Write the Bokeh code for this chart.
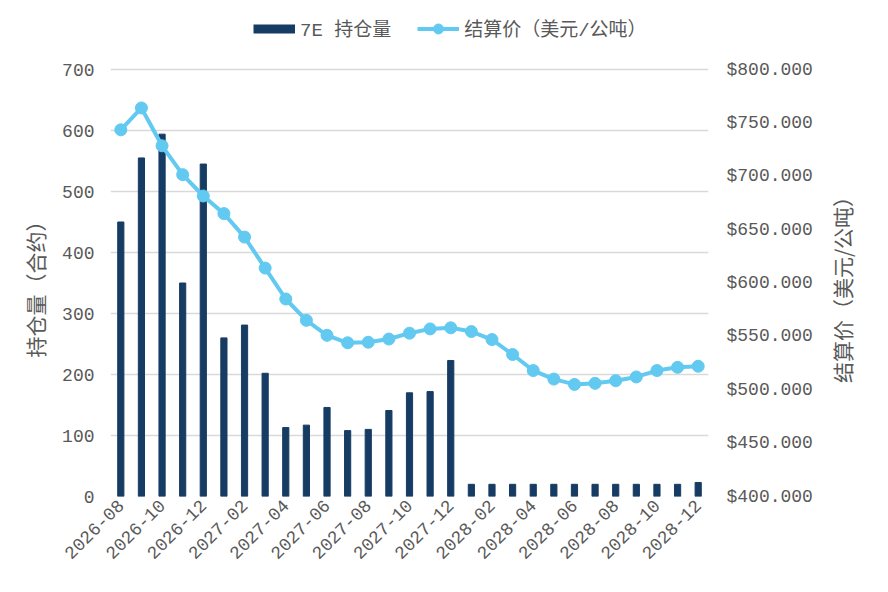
from math import pi

from bokeh.embed import file_html
from bokeh.models import (
    FixedTicker,
    Label,
    Legend,
    LegendItem,
    LinearAxis,
    NumeralTickFormatter,
    Range1d,
)
from bokeh.plotting import figure
from bokeh.resources import INLINE

MONTHS = [
    "2026-08", "2026-09", "2026-10", "2026-11", "2026-12",
    "2027-01", "2027-02", "2027-03", "2027-04", "2027-05", "2027-06",
    "2027-07", "2027-08", "2027-09", "2027-10", "2027-11", "2027-12",
    "2028-01", "2028-02", "2028-03", "2028-04", "2028-05", "2028-06",
    "2028-07", "2028-08", "2028-09", "2028-10", "2028-11", "2028-12",
]
OPEN_INTEREST = [
    450, 555, 594, 350, 545, 260, 281, 202, 113, 117, 146, 108, 110, 141,
    170, 172, 223, 20, 20, 20, 20, 20, 20, 20, 20, 20, 20, 20, 23,
]
SETTLE_PRICE = [
    743.5, 764.0, 728.5, 701.5, 681.5, 665.0, 643.0, 614.0, 585.0, 565.0,
    551.0, 544.0, 544.5, 547.5, 553.0, 557.0, 558.0, 554.5, 547.0, 533.0,
    518.0, 510.0, 505.0, 506.0, 508.5, 512.0, 518.0, 521.0, 522.0,
]
LEFT_TICKS = [0, 100, 200, 300, 400, 500, 600, 700]
RIGHT_TICKS = [400, 450, 500, 550, 600, 650, 700, 750, 800]
LEFT_TITLE = "持仓量（合约）"
RIGHT_TITLE = "结算价（美元/公吨）"

NAVY = "#173c63"
SKY = "#62c9f1"
GRID = "#d9d9d9"
TEXT = "#595959"
MONO = "Liberation Mono"
CJK = "'Noto Sans CJK SC'"
# trailing blanks push the rotated title down to the middle of the 0-700 part
PAD = "\u3000\u3000\u3000\u2002"

idx = list(range(len(MONTHS)))

# the frame runs up to the top so the legend can sit inside it
TOP = 800
p = figure(
    x_range=Range1d(-0.5, len(MONTHS) - 0.5),
    y_range=Range1d(0, TOP),
    width=880,
    height=584,
    output_backend="svg",
    toolbar_location=None,
    min_border_left=110,
    min_border_right=172,
    min_border_top=8,
    min_border_bottom=88,
    outline_line_color=None,
)
p.extra_y_ranges = {"price": Range1d(400, 400 + TOP * 400 / 700)}

bars = p.vbar(x=idx, top=OPEN_INTEREST, width=0.3, color=NAVY)
line = p.line(x=idx, y=SETTLE_PRICE, line_width=4, color=SKY, y_range_name="price")
dots = p.scatter(x=idx, y=SETTLE_PRICE, size=12, color=SKY, y_range_name="price")
# legend swatch only: one NaN point draws nothing in the plot
bar_key = p.line(x=idx[:1], y=[float("nan")], line_width=9, color=NAVY)

# axes
p.yaxis.ticker = FixedTicker(ticks=LEFT_TICKS)
p.yaxis.axis_label = LEFT_TITLE + PAD
right = LinearAxis(
    y_range_name="price",
    ticker=FixedTicker(ticks=RIGHT_TICKS),
    formatter=NumeralTickFormatter(format="$0,0.000"),
)
p.add_layout(right, "right")

for ax in (p.yaxis[0], right, p.xaxis[0]):
    ax.axis_line_color = None
    ax.major_tick_line_color = None
    ax.minor_tick_line_color = None
    ax.major_tick_out = 0
    ax.major_tick_in = 0
    ax.major_label_text_font = MONO
    ax.major_label_text_font_size = "18px"
    ax.major_label_text_color = TEXT
    ax.axis_label_text_font = CJK
    ax.axis_label_text_font_size = "21px"
    ax.axis_label_text_font_style = "normal"
    ax.axis_label_text_color = TEXT

p.yaxis[0].major_label_standoff = 16
p.yaxis[0].axis_label_standoff = 9
right.major_label_standoff = 18

p.xaxis.ticker = FixedTicker(ticks=idx[::2])
p.xaxis.major_label_overrides = {i: MONTHS[i] for i in idx}
p.xaxis.major_label_orientation = pi / 4
p.xaxis.major_label_standoff = 6

p.xgrid.grid_line_color = None
p.ygrid.grid_line_color = GRID
p.ygrid.grid_line_width = 1.5
p.ygrid.ticker = FixedTicker(ticks=LEFT_TICKS)

# right title, bottom-to-top like the left one, in its own side panel
p.add_layout(
    Label(
        x=26,
        y=212,
        x_units="screen",
        y_units="screen",
        text=RIGHT_TITLE,
        angle=pi / 2,
        text_align="center",
        text_baseline="middle",
        text_font=CJK,
        text_font_size="21px",
        text_color=TEXT,
    ),
    "right",
)

legend = Legend(
    items=[
        LegendItem(label="7E 持仓量", renderers=[bar_key]),
        LegendItem(label=RIGHT_TITLE, renderers=[line, dots]),
    ],
    orientation="horizontal",
    location=(143, 454),
    padding=0,
    margin=0,
    spacing=26,
    glyph_width=42,
    glyph_height=25,
    label_standoff=5,
    label_text_font=f"{MONO}, {CJK}",
    label_text_font_size="19px",
    label_text_color=TEXT,
    border_line_color=None,
    background_fill_alpha=0,
)
p.add_layout(legend)

open("out.html", "w").write(file_html(p, INLINE))
